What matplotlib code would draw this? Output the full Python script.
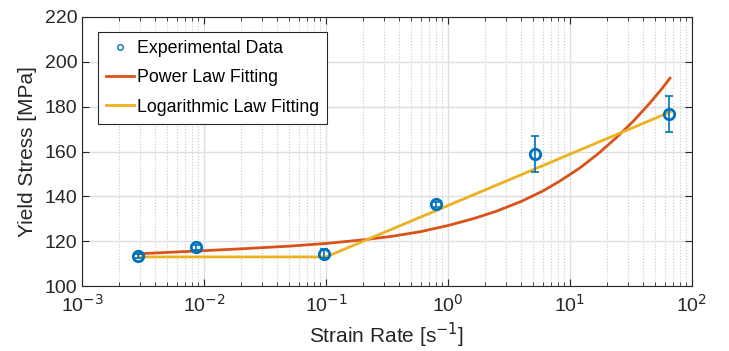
import numpy as np
import matplotlib.pyplot as plt

plt.rcParams['font.family'] = ['Liberation Sans', 'DejaVu Sans']
plt.rcParams['axes.unicode_minus'] = False

# experimental data
strain_rate = [0.0029, 0.0086, 0.096, 0.80, 5.2, 65]
stress = [113.5, 117.3, 114.4, 136.4, 158.8, 176.9]
stress_err = [1.0, 1.0, 2.0, 1.0, 8.0, 8.0]

# power law fit
power_x = [0.0029, 0.005, 0.01, 0.02, 0.05, 0.1, 0.2, 0.35, 0.6, 1.0, 1.6, 2.5, 4.0,
           6.0, 8.3, 12, 17, 24, 33, 45, 57, 66]
power_y = [114.4, 115.0, 115.8, 116.6, 117.8, 119.0, 120.6, 122.2, 124.3, 127.0, 130.0,
           133.4, 137.8, 142.4, 146.9, 152.6, 159.0, 166.2, 173.5, 181.5, 188.2, 192.7]

# logarithmic law fit
log_x = [0.0029, 0.1, 66]
log_y = [113.0, 113.0, 177.6]

x_ticks = [1e-3, 1e-2, 1e-1, 1e0, 1e1, 1e2]
x_ticklabels = ['10$^{-3}$', '10$^{-2}$', '10$^{-1}$', '10$^{0}$', '10$^{1}$', '10$^{2}$']

blue = '#0072BD'
red = '#D95319'
yellow = '#EDB120'

fig = plt.figure(figsize=(7.29, 3.51), dpi=100)
ax = fig.add_axes([0.1125, 0.185, 0.8367, 0.7666])

ax.errorbar(strain_rate, stress, yerr=stress_err, fmt='none', ecolor=blue,
            elinewidth=1.2, capsize=3, capthick=1.2, zorder=4)
ax.plot(strain_rate, stress, 'o', mfc='none', mec=blue, mew=2, ms=7.5, zorder=5)
ax.plot(power_x, power_y, color=red, lw=2, zorder=3)
ax.plot(log_x, log_y, color=yellow, lw=2, zorder=3)

# legend handles
h1, = ax.plot([], [], 'o', mfc='none', mec=blue, mew=1, ms=4)
h2, = ax.plot([], [], color=red, lw=2)
h3, = ax.plot([], [], color=yellow, lw=2)
leg = ax.legend([h1, h2, h3], ['Experimental Data', 'Power Law Fitting', 'Logarithmic Law Fitting'],
                loc='upper left', bbox_to_anchor=(0.026, 0.945), fontsize=12.8,
                fancybox=False, framealpha=1, edgecolor='#262626',
                handlelength=1.6, handletextpad=0.15, borderpad=0.45, labelspacing=0.7,
                borderaxespad=0)
leg.get_frame().set_linewidth(0.8)

ax.set_xscale('log')
ax.set_xlim(1e-3, 1e2)
ax.set_ylim(100, 220)
ax.set_xticks(x_ticks)
ax.set_xticklabels(x_ticklabels)
ax.set_yticks([100, 120, 140, 160, 180, 200, 220])

ax.grid(True, which='major', color='#dfdfdf', lw=1)
ax.grid(True, which='minor', axis='x', color='#c8c8c8', lw=0.8, ls=':')
ax.set_axisbelow(True)

ax.tick_params(which='both', direction='in', top=True, right=True, colors='#262626',
               labelsize=14)
ax.tick_params(axis='x', which='major', pad=6)
ax.tick_params(which='major', length=5)
ax.tick_params(which='minor', length=3)
for s in ax.spines.values():
    s.set_color('#262626')
    s.set_linewidth(0.8)

ax.set_xlabel('Strain Rate [s$^{-1}$]', fontsize=15, color='#262626', labelpad=3)
ax.set_ylabel('Yield Stress [MPa]', fontsize=15, color='#262626', labelpad=5)

fig.savefig('out.png', dpi=100)
